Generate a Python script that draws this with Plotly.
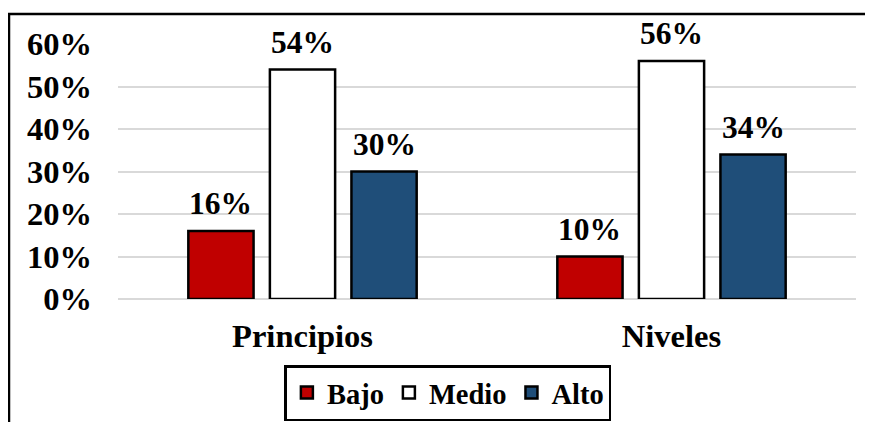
import plotly.graph_objects as go

categories = ["Principios", "Niveles"]
series_names = ["Bajo", "Medio", "Alto"]
bajo = [0.16, 0.10]
medio = [0.54, 0.56]
alto = [0.30, 0.34]
y_ticks = [0, 0.1, 0.2, 0.3, 0.4, 0.5, 0.6]

colors = ["#C00000", "#FFFFFF", "#1F4E79"]
FONT = "Liberation Serif, Times New Roman, serif"
FS_TICK = 32.5
FS_LABEL = 31.5
FS_LEG = 28.5

# the page adds an 8px body margin on every side
W, H = 857, 414
ML, MR, MT, MB = 110, 9, 36, 123
BARGAP, GROUPGAP = 0.337, 0.2

fig = go.Figure()
all_vals = [bajo, medio, alto]
for name, vals, col in zip(series_names, all_vals, colors):
    fig.add_trace(go.Bar(
        x=categories, y=vals, name=name,
        marker=dict(color=col, line=dict(color="black", width=2.5)),
        cliponaxis=False,
    ))

# data labels, placed above each bar via the axes
plot_w = W - ML - MR
plot_h = H - MT - MB
slot = plot_w / len(categories) * (1 - BARGAP) / len(series_names)
annotations = []
for i, vals in enumerate(all_vals):
    for cat, v in zip(categories, vals):
        annotations.append(dict(
            x=cat, y=v, xref="x", yref="y", text=f"{round(v * 100)}%",
            showarrow=False, xanchor="center", yanchor="bottom",
            xshift=(i - 1) * slot, yshift=8,
            font=dict(family=FONT, size=FS_LABEL, color="black", weight="bold"),
        ))

fig.update_layout(
    width=W, height=H,
    margin=dict(l=ML, r=MR, t=MT, b=MB, autoexpand=False),
    paper_bgcolor="white", plot_bgcolor="white",
    barmode="group", bargap=BARGAP, bargroupgap=GROUPGAP,
    font=dict(family=FONT, size=FS_TICK, color="black", weight="bold"),
    showlegend=True,
    legend=dict(
        orientation="h", x=0.447, xanchor="center",
        y=-(MB - 1) / plot_h, yanchor="bottom",
        bordercolor="black", borderwidth=2.5,
        font=dict(family=FONT, size=FS_LEG, color="black", weight="bold"),
        itemwidth=30, tracegroupgap=0,
    ),
    xaxis=dict(showline=False, ticks="", ticklabelstandoff=14, automargin=False,
               tickfont=dict(family=FONT, size=FS_TICK, color="black", weight="bold")),
    yaxis=dict(range=[0, 0.6], tickvals=y_ticks, tickformat=".0%", automargin=False,
               showgrid=True, gridcolor="#D9D9D9", gridwidth=1.5,
               zeroline=True, zerolinecolor="#D9D9D9", zerolinewidth=1.5,
               showline=False, ticks="", ticklabelstandoff=25,
               tickfont=dict(family=FONT, size=FS_TICK, color="black", weight="bold")),
    annotations=annotations,
    shapes=[dict(type="rect", xref="paper", yref="paper",
                 x0=(1 - ML) / plot_w, x1=1.2, y0=-0.8, y1=1 + (MT - 6) / plot_h,
                 line=dict(color="black", width=2.5), fillcolor="rgba(0,0,0,0)",
                 layer="below")],
)

fig.write_html("out.html", config={"displayModeBar": False})
